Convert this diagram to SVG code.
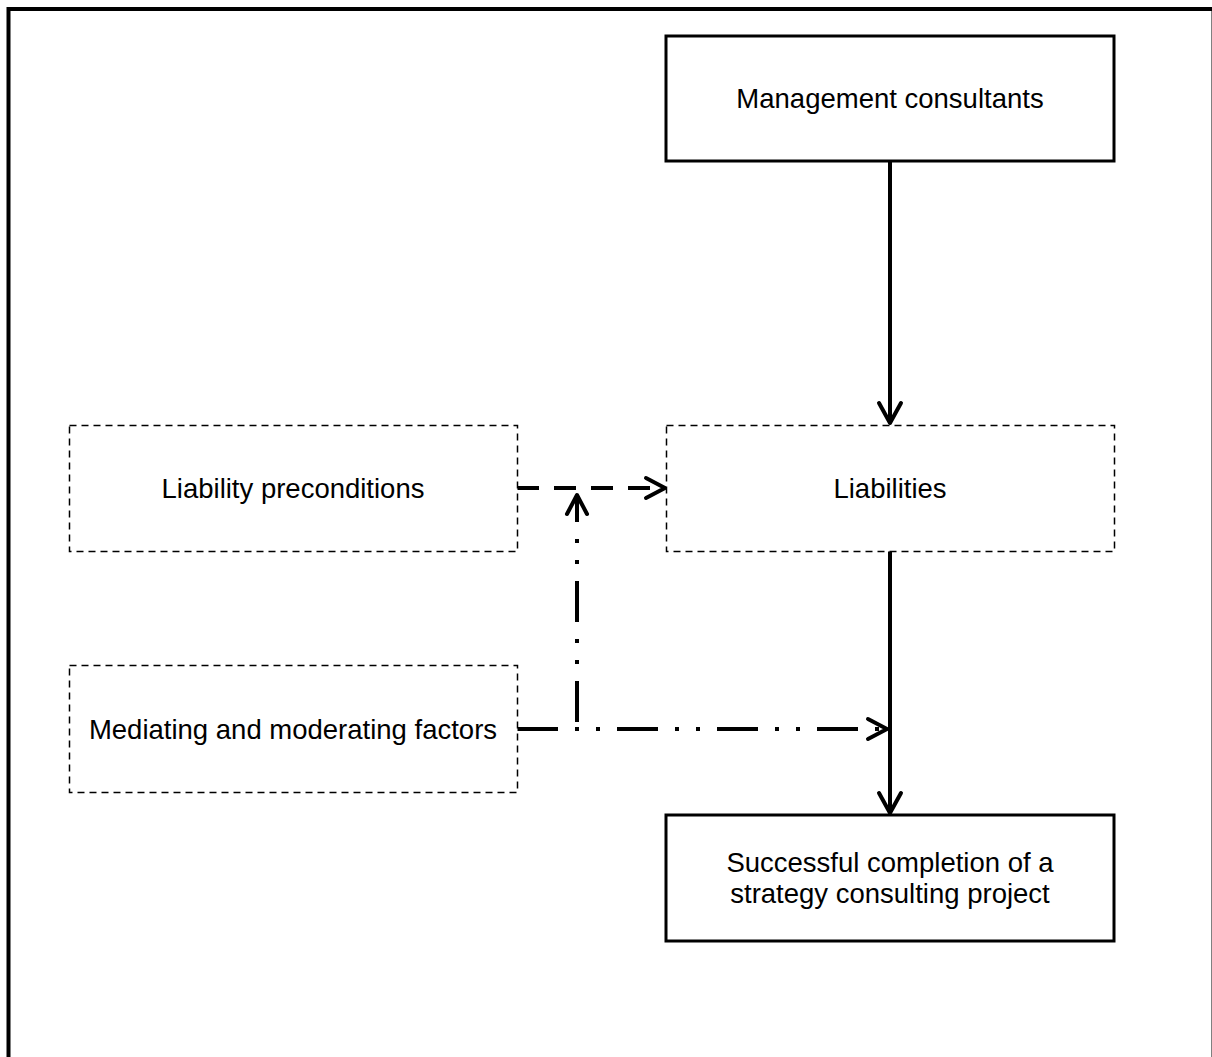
<svg xmlns="http://www.w3.org/2000/svg" width="1212" height="1057" viewBox="0 0 1212 1057">
  <style>
    .solid { fill: #fff; stroke: #000; stroke-width: 3; }
    .dashed { fill: #fff; stroke: #000; stroke-width: 1.5; stroke-dasharray: 7 5; }
    .label { font-family: "Liberation Sans", Arial, sans-serif; font-size: 27.5px; fill: #000; text-anchor: middle; }
    .line { fill: none; stroke: #000; stroke-width: 4; }
    .head { fill: none; stroke: #000; stroke-width: 4; stroke-linecap: round; stroke-linejoin: round; }
    .dashline { stroke-dasharray: 22 15; }
    .dashdot { stroke-dasharray: 41 17 4 17 4 17; }
  </style>
  <rect x="0" y="0" width="1212" height="1057" fill="#fff"/>
  <!-- outer frame -->
  <rect x="8.5" y="9" width="1205" height="1060" fill="none" stroke="#000" stroke-width="4"/>

  <g id="connectors">
    <!-- Management consultants -> Liabilities -->
    <line class="line" x1="890" y1="161" x2="890" y2="421"/>
    <polyline class="head" points="879,403 890,423 901,403"/>
    <!-- Liabilities -> Successful completion -->
    <line class="line" x1="890" y1="551" x2="890" y2="811"/>
    <polyline class="head" points="879,793 890,813 901,793"/>
    <!-- Liability preconditions -> Liabilities -->
    <line class="line dashline" x1="517" y1="488" x2="662" y2="488"/>
    <polyline class="head" points="646,478 665,488 646,498"/>
    <!-- Mediating and moderating factors -> Liabilities/Success link -->
    <line class="line dashdot" x1="517" y1="729" x2="884" y2="729"/>
    <polyline class="head" points="868,719 887,729 868,739"/>
    <!-- Mediating and moderating factors -> preconditions link -->
    <line class="line dashdot" x1="577" y1="722" x2="577" y2="497"/>
    <polyline class="head" points="567,514 577,495 587,514"/>
  </g>

  <g id="management-consultants">
    <rect class="solid" x="666" y="36" width="448" height="125"/>
    <text class="label" x="890" y="108">Management consultants</text>
  </g>

  <g id="liability-preconditions">
    <rect class="dashed" x="69.5" y="425.5" width="448" height="126"/>
    <text class="label" x="293" y="498">Liability preconditions</text>
  </g>

  <g id="liabilities">
    <rect class="dashed" x="666.5" y="425.5" width="448" height="126"/>
    <text class="label" x="890" y="498">Liabilities</text>
  </g>

  <g id="mediating-moderating-factors">
    <rect class="dashed" x="69.5" y="665.5" width="448" height="127"/>
    <text class="label" x="293" y="739">Mediating and moderating factors</text>
  </g>

  <g id="successful-completion">
    <rect class="solid" x="666" y="815" width="448" height="126"/>
    <text class="label" x="890" y="872">Successful completion of a</text>
    <text class="label" x="890" y="903">strategy consulting project</text>
  </g>
</svg>
